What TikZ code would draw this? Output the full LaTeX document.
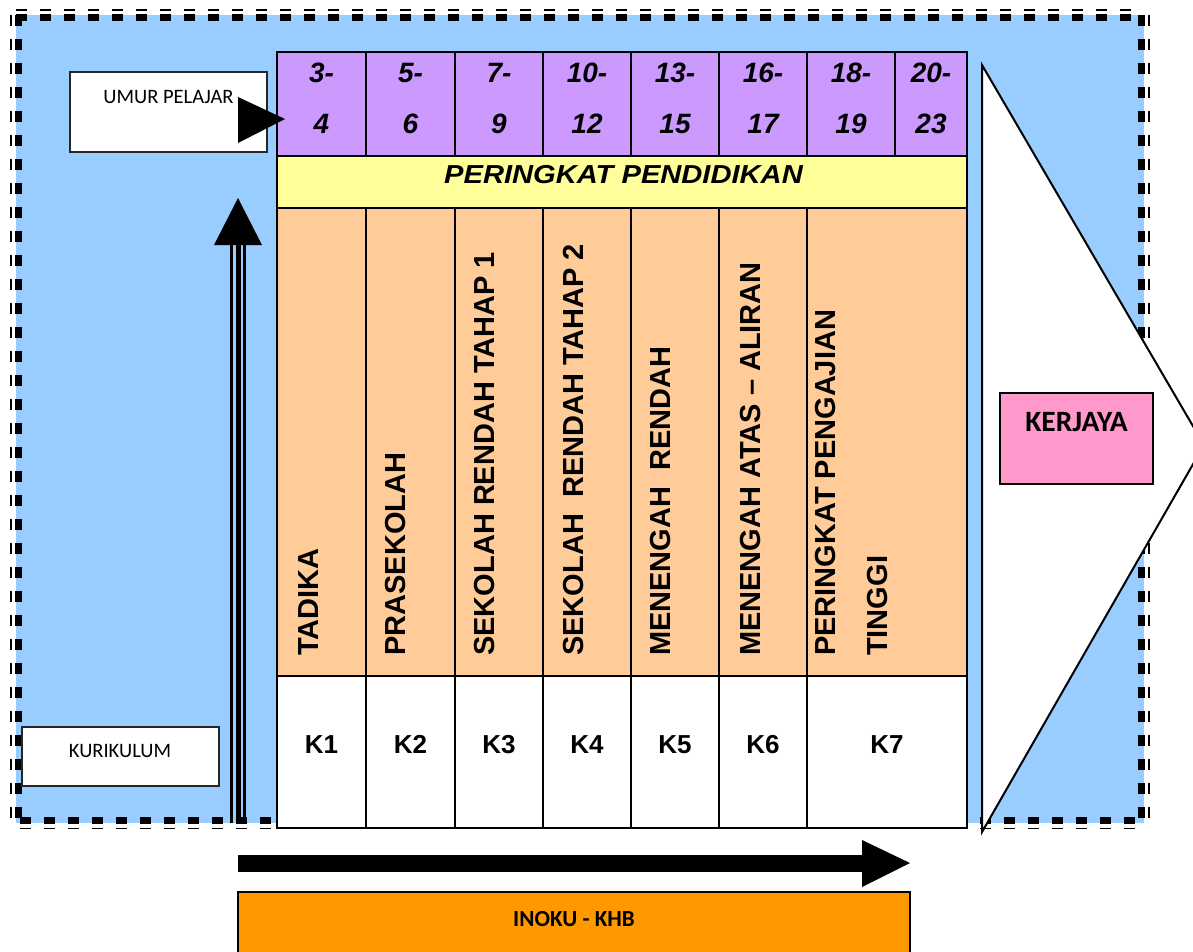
\documentclass[tikz,border=0pt]{standalone}
\usepackage{fontspec}
\setmainfont{Liberation Sans}
\newfontfamily\calfont{Carlito}
\definecolor{bgblue}{HTML}{99CCFF}
\definecolor{agepurple}{HTML}{CC99FF}
\definecolor{lvlyellow}{HTML}{FFFF99}
\definecolor{peach}{HTML}{FFCC99}
\definecolor{kpink}{HTML}{FF99CC}
\definecolor{inokuorange}{HTML}{FF9900}
\begin{document}
\begin{tikzpicture}[x=1pt,y=-1pt,line join=miter,
  tline/.style={line width=2.7pt},
  bthick/.style={line width=7pt,dash pattern=on 11pt off 13pt},
  bthin/.style={line width=1.5pt,dash pattern=on 11pt off 13pt},
  agetxt/.style={font=\fontsize{28}{28}\selectfont\bfseries\itshape,inner sep=0,anchor=base},
  lvltxt/.style={font=\fontsize{26}{26}\selectfont\bfseries\itshape,inner sep=0,anchor=base,xscale=1.12},
  vtxt/.style={font=\fontsize{29}{29}\selectfont\bfseries,rotate=90,anchor=west,inner sep=0},
  ktxt/.style={font=\fontsize{26}{26}\selectfont\bfseries,inner sep=0,anchor=base},
  calbox/.style={draw=black!85,line width=2pt,fill=white,inner sep=0},
  caltxt/.style={font=\calfont\fontsize{20.5}{20.5}\selectfont,inner sep=0},
  calbold/.style={font=\calfont\bfseries\fontsize{#1}{#1}\selectfont,inner sep=0}]
\clip (0,0) rectangle (1193,951);
\fill[white] (0,0) rectangle (1193,951);
% background frame
\fill[bgblue] (16,15) rectangle (1144,823);
\draw[bthick] (16,17) -- (1144,17);
\draw[bthin] (16,10) -- (1144,10);
\draw[bthick] (18.5,15) -- (18.5,823);
\draw[bthin] (11,15) -- (11,823);
\draw[bthick] (1141.5,15) -- (1141.5,823);
\draw[bthin] (1149,15) -- (1149,823);
\draw[bthick] (20,820.5) -- (1144,820.5);
\draw[bthin] (20,828.5) -- (1144,828.5);
% chevron
\coordinate (chevTop) at (982,65);
\coordinate (chevTip) at (1204,445);
\coordinate (chevBot) at (982,832);
\filldraw[fill=white,draw=black,line width=2pt] (chevTop) -- (chevTip) -- (chevBot) -- cycle;
% table fills
\fill[agepurple] (277,52) rectangle (967,156);
\fill[lvlyellow] (277,156) rectangle (967,208);
\fill[peach] (277,208) rectangle (967,676);
\fill[white] (277,676) rectangle (967,828);
% table lines
\draw[tline] (277,52) rectangle (967,828);
\foreach \yy in {156,208,676} \draw[tline] (277,\yy) -- (967,\yy);
\foreach \xx in {366,455,543,631,719,807,895} \draw[tline] (\xx,52) -- (\xx,156);
\foreach \xx in {366,455,543,631,719,807} \draw[tline] (\xx,208) -- (\xx,828);
% ages
\foreach \n/\xx/\ta/\tb in {1/321.5/3-/4,2/410.5/5-/6,3/499/7-/9,4/587/10-/12,5/675/13-/15,6/763/16-/17,7/851/18-/19,8/931/20-/23}{
  \node[agetxt] (age\n t) at (\xx,82) {\ta};
  \node[agetxt] (age\n b) at (\xx,133) {\tb};
}
\node[lvltxt] (lvl) at (623.5,183) {PERINGKAT PENDIDIKAN};
% vertical level names
\node[vtxt] (v1) at (309,656) {TADIKA};
\node[vtxt] (v2) at (396,656) {PRASEKOLAH};
\node[vtxt] (v3) at (485,656) {SEKOLAH RENDAH TAHAP 1};
\node[vtxt] (v4) at (574,656) {SEKOLAH\ \ RENDAH TAHAP 2};
\node[vtxt] (v5) at (661,656) {MENENGAH\ \ RENDAH};
\node[vtxt] (v6) at (751,656) {MENENGAH ATAS – ALIRAN};
\node[vtxt] (v7) at (826,656) {PERINGKAT PENGAJIAN};
\node[vtxt] (v8) at (878,656) {TINGGI};
% K labels
\foreach \n/\xx in {1/321.5,2/410.5,3/499,4/587,5/675,6/763,7/887}{
  \node[ktxt] (k\n) at (\xx,753) {K\n};
}
% side boxes
\node[calbox,minimum width=197pt,minimum height=80pt] (umur) at (168.5,112) {};
\node[caltxt] (umurtxt) at (168.5,97) {UMUR PELAJAR};
\node[calbox,minimum width=197pt,minimum height=59pt] (kurikulum) at (120.5,756.5) {};
\node[caltxt] (kurtxt) at (120,751) {KURIKULUM};
\node[calbox,draw=black,fill=kpink,minimum width=153pt,minimum height=91pt] (kerjaya) at (1076.5,438.5) {};
\node[calbold=29.5] (kertxt) at (1076.5,422.5) {KERJAYA};
\node[calbox,draw=black,line width=2.5pt,fill=inokuorange,minimum width=672pt,minimum height=80pt] (inoku) at (574,932) {};
\node[calbold=23] (inokutxt) at (574,919) {INOKU - KHB};
% arrows
\coordinate (umurTip) at (285,119);
\fill (238,97) -- (umurTip) -- (238,143) -- cycle;
\coordinate (upTip) at (238,198);
\fill (214,245) -- (upTip) -- (262,245) -- cycle;
\draw[line width=3pt] (231.5,245) -- (231.5,823);
\draw[line width=5pt] (238.3,245) -- (238.3,823);
\draw[line width=2.2pt] (244.5,245) -- (244.5,823);
\coordinate (rightTip) at (910,863);
\fill (238,855) rectangle (862,872);
\fill (862,840) -- (rightTip) -- (862,887) -- cycle;
\end{tikzpicture}
\end{document}
